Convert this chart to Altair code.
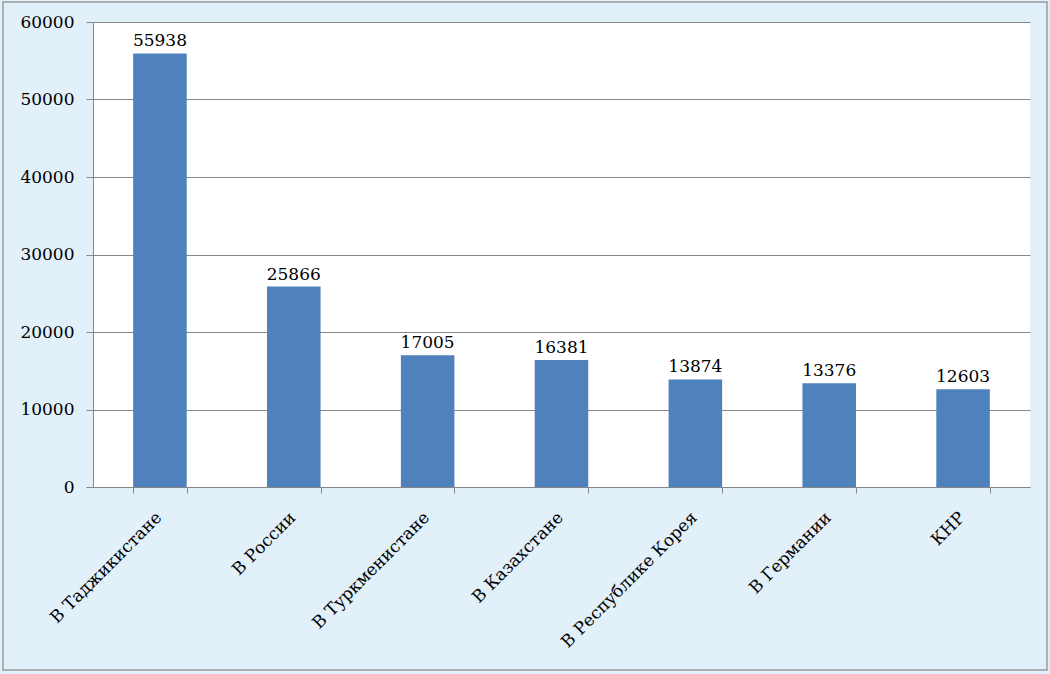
import altair as alt
import pandas as pd

categories = ["В Таджикистане", "В России", "В Туркменистане", "В Казахстане",
              "В Республике Корея", "В Германии", "КНР"]
values = [55938, 25866, 17005, 16381, 13874, 13376, 12603]

df = pd.DataFrame({"cat": categories, "val": values})

FONT = "DejaVu Serif"
GRAY = "#868686"

x = alt.X("cat:N", sort=categories, title=None,
          scale=alt.Scale(paddingInner=0.6, paddingOuter=0.3),
          axis=alt.Axis(labelAngle=-45, labelFont=FONT, labelFontSize=17,
                        labelColor="black", tickBand="extent", tickSize=6,
                        tickColor=GRAY, domainColor=GRAY, labelPadding=16,
                        labelOffset=-7, labelLimit=400))
y = alt.Y("val:Q", title=None,
          scale=alt.Scale(domain=[0, 60000], nice=False),
          axis=alt.Axis(values=[0, 10000, 20000, 30000, 40000, 50000, 60000],
                        format="d", labelFont=FONT, labelFontSize=17,
                        labelColor="black", tickSize=7, tickColor=GRAY,
                        domainColor=GRAY, gridColor=GRAY, labelPadding=12))

bars = alt.Chart(df).mark_bar(color="#4F81BD").encode(x=x, y=y)
text = alt.Chart(df).mark_text(font=FONT, fontSize=17, baseline="bottom",
                               dy=-3, color="black").encode(
    x=alt.X("cat:N", sort=categories), y="val:Q", text="val:Q")

border = alt.Chart(pd.DataFrame({"a": [0]})).mark_rect(
    fill=None, stroke="#9a9a9a", strokeWidth=1.5).encode(
    x=alt.value(-90), x2=alt.value(954), y=alt.value(-20), y2=alt.value(648))

chart = alt.layer(bars, text, border).properties(
    width=937, height=465,
    background="#E2F0FA",
    autosize=alt.AutoSizeParams(type="none"),
    padding={"left": 93, "top": 22, "right": 20, "bottom": 187},
).configure_view(fill="white", stroke=None)

chart.save("out.html", embed_options={"renderer": "svg", "actions": False})
